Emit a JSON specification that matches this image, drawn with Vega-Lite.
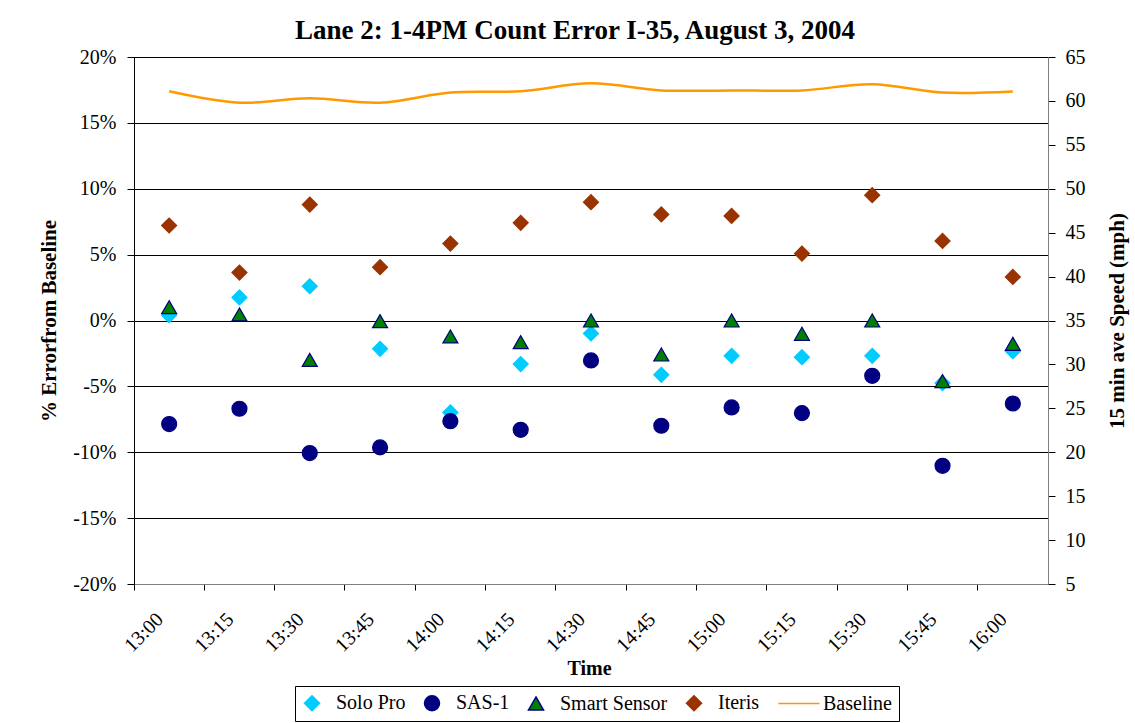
{
  "$schema": "https://vega.github.io/schema/vega-lite/v6.json",
  "autosize": {"type": "none"},
  "width": 914,
  "height": 527,
  "padding": {"left": 134, "top": 57, "right": 87, "bottom": 139},
  "background": "white",
  "title": {
    "text": "Lane 2: 1-4PM Count Error I-35, August 3, 2004",
    "font": "Liberation Serif",
    "fontSize": 27,
    "fontWeight": "bold",
    "color": "black",
    "baseline": "alphabetic",
    "offset": 10,
    "dy": 29,
    "dx": -16
  },
  "config": {
    "view": {"stroke": "#808080", "strokeWidth": 1},
    "axis": {
      "labelFont": "Liberation Serif",
      "labelFontSize": 20,
      "labelColor": "black",
      "titleFont": "Liberation Serif",
      "titleFontSize": 21,
      "titleFontWeight": "bold",
      "titleColor": "black",
      "tickColor": "black",
      "domainColor": "black"
    },
    "legend": {
      "labelFont": "Liberation Serif",
      "labelFontSize": 20,
      "labelColor": "black",
      "symbolSize": 225,
      "symbolStrokeWidth": 1.5,
      "strokeColor": "black",
      "padding": 7,
      "columnPadding": 15,
      "labelOffset": 14
    }
  },
  "datasets": {
    "pts": [
      {"t": "13:00", "series": "Solo Pro", "err": 0.004},
      {"t": "13:15", "series": "Solo Pro", "err": 0.0175},
      {"t": "13:30", "series": "Solo Pro", "err": 0.026},
      {"t": "13:45", "series": "Solo Pro", "err": -0.0215},
      {"t": "14:00", "series": "Solo Pro", "err": -0.0698},
      {"t": "14:15", "series": "Solo Pro", "err": -0.0331},
      {"t": "14:30", "series": "Solo Pro", "err": -0.0098},
      {"t": "14:45", "series": "Solo Pro", "err": -0.0412},
      {"t": "15:00", "series": "Solo Pro", "err": -0.0268},
      {"t": "15:15", "series": "Solo Pro", "err": -0.0278},
      {"t": "15:30", "series": "Solo Pro", "err": -0.0268},
      {"t": "15:45", "series": "Solo Pro", "err": -0.0475},
      {"t": "16:00", "series": "Solo Pro", "err": -0.0233},
      {"t": "13:00", "series": "SAS-1", "err": -0.0786},
      {"t": "13:15", "series": "SAS-1", "err": -0.067},
      {"t": "13:30", "series": "SAS-1", "err": -0.1006},
      {"t": "13:45", "series": "SAS-1", "err": -0.0963},
      {"t": "14:00", "series": "SAS-1", "err": -0.0764},
      {"t": "14:15", "series": "SAS-1", "err": -0.083},
      {"t": "14:30", "series": "SAS-1", "err": -0.0303},
      {"t": "14:45", "series": "SAS-1", "err": -0.0799},
      {"t": "15:00", "series": "SAS-1", "err": -0.066},
      {"t": "15:15", "series": "SAS-1", "err": -0.0703},
      {"t": "15:30", "series": "SAS-1", "err": -0.042},
      {"t": "15:45", "series": "SAS-1", "err": -0.1103},
      {"t": "16:00", "series": "SAS-1", "err": -0.063},
      {"t": "13:00", "series": "Smart Sensor", "err": 0.0101},
      {"t": "13:15", "series": "Smart Sensor", "err": 0.0046},
      {"t": "13:30", "series": "Smart Sensor", "err": -0.0299},
      {"t": "13:45", "series": "Smart Sensor", "err": -0.0005},
      {"t": "14:00", "series": "Smart Sensor", "err": -0.0121},
      {"t": "14:15", "series": "Smart Sensor", "err": -0.0164},
      {"t": "14:30", "series": "Smart Sensor", "err": 0.0},
      {"t": "14:45", "series": "Smart Sensor", "err": -0.0258},
      {"t": "15:00", "series": "Smart Sensor", "err": 0.0},
      {"t": "15:15", "series": "Smart Sensor", "err": -0.0101},
      {"t": "15:30", "series": "Smart Sensor", "err": 0.0},
      {"t": "15:45", "series": "Smart Sensor", "err": -0.046},
      {"t": "16:00", "series": "Smart Sensor", "err": -0.0177},
      {"t": "13:00", "series": "Iteris", "err": 0.0721},
      {"t": "13:15", "series": "Iteris", "err": 0.0364},
      {"t": "13:30", "series": "Iteris", "err": 0.088},
      {"t": "13:45", "series": "Iteris", "err": 0.0405},
      {"t": "14:00", "series": "Iteris", "err": 0.0584},
      {"t": "14:15", "series": "Iteris", "err": 0.0741},
      {"t": "14:30", "series": "Iteris", "err": 0.0898},
      {"t": "14:45", "series": "Iteris", "err": 0.0805},
      {"t": "15:00", "series": "Iteris", "err": 0.0794},
      {"t": "15:15", "series": "Iteris", "err": 0.0508},
      {"t": "15:30", "series": "Iteris", "err": 0.0951},
      {"t": "15:45", "series": "Iteris", "err": 0.0604},
      {"t": "16:00", "series": "Iteris", "err": 0.0331}
    ],
    "speed": [
      {"t": "13:00", "series": "Baseline", "mph": 61.1},
      {"t": "13:15", "series": "Baseline", "mph": 59.8},
      {"t": "13:30", "series": "Baseline", "mph": 60.3},
      {"t": "13:45", "series": "Baseline", "mph": 59.8},
      {"t": "14:00", "series": "Baseline", "mph": 60.95},
      {"t": "14:15", "series": "Baseline", "mph": 61.1},
      {"t": "14:30", "series": "Baseline", "mph": 62.0},
      {"t": "14:45", "series": "Baseline", "mph": 61.2},
      {"t": "15:00", "series": "Baseline", "mph": 61.2},
      {"t": "15:15", "series": "Baseline", "mph": 61.2},
      {"t": "15:30", "series": "Baseline", "mph": 61.9},
      {"t": "15:45", "series": "Baseline", "mph": 60.95},
      {"t": "16:00", "series": "Baseline", "mph": 61.07}
    ]
  },
  "layer": [
    {
      "data": {"name": "pts"},
      "mark": {"type": "point", "filled": true, "opacity": 1, "strokeWidth": 1.2},
      "encoding": {
        "x": {
          "field": "t",
          "type": "nominal",
          "sort": null,
          "scale": {"type": "band", "paddingInner": 0, "paddingOuter": 0},
          "axis": {
            "title": "Time",
            "titleFontSize": 20,
            "titleX": 455,
            "titleY": 90,
            "titleBaseline": "alphabetic",
            "labelAngle": -45,
            "labelAlign": "right",
            "labelBaseline": "middle",
            "labelPadding": 26,
            "bandPosition": 0,
            "labelOffset": -9,
            "tickSize": 6,
            "domainColor": "#808080",
            "grid": false
          }
        },
        "y": {
          "field": "err",
          "type": "quantitative",
          "scale": {"domain": [-0.2, 0.2], "nice": false, "zero": false},
          "axis": {
            "title": "% Errorfrom Baseline",
            "values": [-0.2, -0.15, -0.1, -0.05, 0, 0.05, 0.1, 0.15, 0.2],
            "format": ".0%",
            "labelExpr": "replace(datum.label, '−', '-')",
            "tickSize": 7,
            "labelPadding": 11,
            "grid": true,
            "gridColor": "#000000",
            "gridWidth": 1,
            "titleAngle": 270,
            "titleX": -85,
            "titleY": 263.5,
            "titleAlign": "center",
            "titleBaseline": "middle"
          }
        },
        "fill": {
          "field": "series",
          "type": "nominal",
          "scale": {
            "domain": ["Solo Pro", "SAS-1", "Smart Sensor", "Iteris", "Baseline"],
            "range": ["#00CCFF", "#000080", "#008000", "#993300", "#FF9900"]
          },
          "legend": {"title": null, "orient": "none", "direction": "horizontal", "legendX": 161, "legendY": 629}
        },
        "stroke": {
          "field": "series",
          "type": "nominal",
          "scale": {
            "domain": ["Solo Pro", "SAS-1", "Smart Sensor", "Iteris", "Baseline"],
            "range": ["#00CCFF", "#000080", "#000080", "#993300", "#FF9900"]
          },
          "legend": {"title": null, "orient": "none", "direction": "horizontal", "legendX": 161, "legendY": 629}
        },
        "shape": {
          "field": "series",
          "type": "nominal",
          "scale": {
            "domain": ["Solo Pro", "SAS-1", "Smart Sensor", "Iteris", "Baseline"],
            "range": ["diamond", "circle", "triangle-up", "diamond", "M-2.75,0L2.75,0"]
          },
          "legend": {"title": null, "orient": "none", "direction": "horizontal", "legendX": 161, "legendY": 629}
        },
        "size": {"value": 225}
      }
    },
    {
      "data": {"name": "speed"},
      "mark": {"type": "line", "interpolate": "catmull-rom", "strokeWidth": 2.5},
      "encoding": {
        "x": {"field": "t", "type": "nominal", "sort": null},
        "y": {
          "field": "mph",
          "type": "quantitative",
          "scale": {"domain": [5, 65], "nice": false, "zero": false},
          "axis": {
            "orient": "right",
            "title": "15 min ave Speed (mph)",
            "values": [5, 10, 15, 20, 25, 30, 35, 40, 45, 50, 55, 60, 65],
            "tickSize": 7,
            "labelPadding": 10,
            "grid": false,
            "domainColor": "#808080",
            "titleAngle": 270,
            "titleX": 69,
            "titleY": 263.5,
            "titleAlign": "center",
            "titleBaseline": "middle"
          }
        },
        "stroke": {
          "field": "series",
          "type": "nominal",
          "legend": {"title": null, "orient": "none", "direction": "horizontal", "legendX": 161, "legendY": 629}
        }
      }
    }
  ],
  "resolve": {"scale": {"y": "independent"}}
}
